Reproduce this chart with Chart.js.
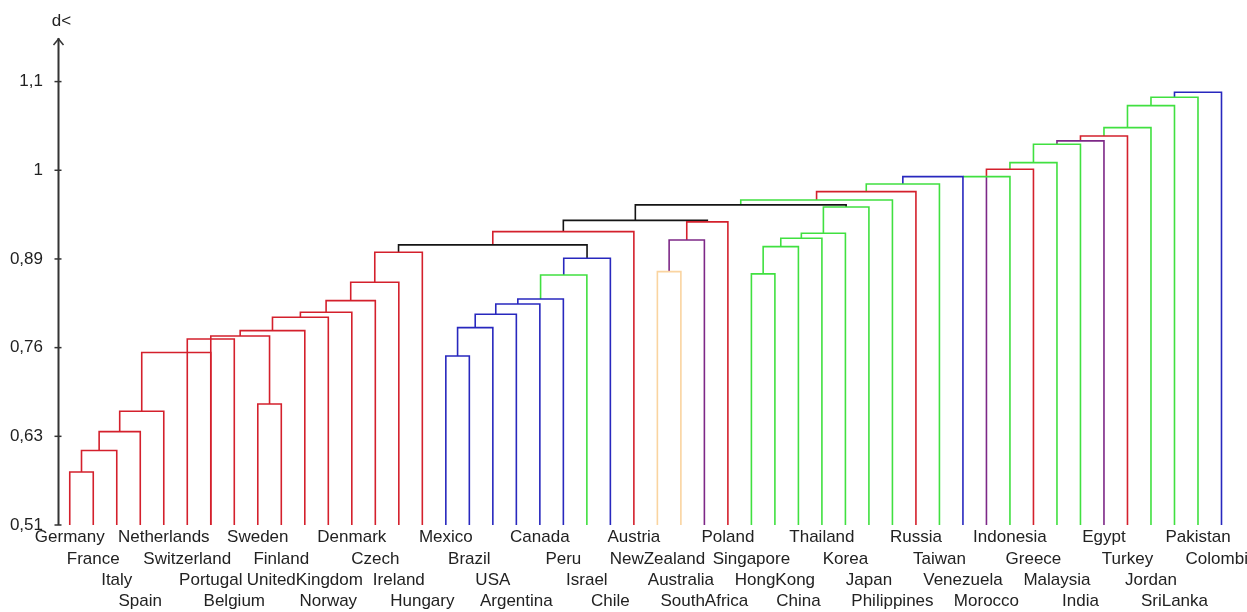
<!DOCTYPE html>
<html>
<head>
<meta charset="utf-8">
<script src="https://cdn.jsdelivr.net/npm/chart.js@4/dist/chart.umd.min.js"></script>
<style>
  body { margin: 0; background: #fff; }
  #wrap { width: 1247px; height: 612px; position: relative; }
</style>
</head>
<body>
<div id="wrap"><canvas id="dendro"></canvas></div>
<script>
// leaves, left to right
const leafNames = ['Germany', 'France', 'Italy', 'Spain', 'Netherlands', 'Switzerland', 'Portugal', 'Belgium',
  'Sweden', 'Finland', 'UnitedKingdom', 'Norway', 'Denmark', 'Czech', 'Ireland', 'Hungary',
  'Mexico', 'Brazil', 'USA', 'Argentina', 'Canada', 'Peru', 'Israel', 'Chile',
  'Austria', 'NewZealand', 'Australia', 'SouthAfrica', 'Poland', 'Singapore', 'HongKong', 'China',
  'Thailand', 'Korea', 'Japan', 'Philippines', 'Russia', 'Taiwan', 'Venezuela', 'Morocco',
  'Indonesia', 'Greece', 'Malaysia', 'India', 'Egypt', 'Turkey', 'Jordan', 'SriLanka', 'Pakistan', 'Colombia'];

// y axis ticks (distance d<)
const yTickValues = [0.51, 0.628, 0.746, 0.864, 0.982, 1.1];
const yTickLabels = ['0,51', '0,63', '0,76', '0,89', '1', '1,1'];

// each link of the dendrogram: left / right position (leaf index units), join height, base height of each leg, group
const linkLeft = [0, 0.5, 1.25, 2.125, 3.0625, 5, 8, 6, 7.25, 8.625, 9.8125, 10.906, 11.953, 12.977,
  16, 16.5, 17.25, 18.125, 19.063, 20.031, 21.016, 13.988, 17.998,
  25, 25.5, 26.25, 20.999,
  29, 29.5, 30.25, 31.125, 32.063, 24.062, 28.547, 31.773, 33.887, 35.443,
  38, 39, 39, 40, 41, 42, 43, 44, 45, 46, 47];
const linkRight = [1, 2, 3, 4, 6, 7, 9, 8.5, 10, 11, 12, 13, 14, 15,
  17, 18, 19, 20, 21, 22, 23, 22.008, 24,
  26, 27, 28, 27.125,
  30, 31, 32, 33, 34, 33.031, 35, 36, 37, 38,
  40, 39, 41, 42, 43, 44, 45, 46, 47, 48, 49];
const linkHeight = [0.5805, 0.6092, 0.6342, 0.6613, 0.7396, 0.7575, 0.6710, 0.7615, 0.7686, 0.7864, 0.7931, 0.8085, 0.8330, 0.8729,
  0.7349, 0.7726, 0.7904, 0.8041, 0.8108, 0.8427, 0.8649, 0.8827, 0.9004,
  0.8471, 0.8893, 0.9133, 0.9153,
  0.8441, 0.8804, 0.8916, 0.8982, 0.9332, 0.9359, 0.9425, 0.9536, 0.9638, 0.9736,
  0.9736, 0.9736, 0.9834, 0.9922, 1.0167, 1.0211, 1.0277, 1.0388, 1.0680, 1.0792, 1.0859];
const linkLeftBase = [0.51, 0.5805, 0.6092, 0.6342, 0.6613, 0.51, 0.51, 0.51, 0.7615, 0.7686, 0.7864, 0.7931, 0.8085, 0.8330,
  0.51, 0.7349, 0.7726, 0.7904, 0.8041, 0.8108, 0.8427, 0.8729, 0.8827,
  0.51, 0.8471, 0.8893, 0.9004,
  0.51, 0.8441, 0.8804, 0.8916, 0.8982, 0.9153, 0.9359, 0.9425, 0.9536, 0.9638,
  0.9736, 0.51, 0.9736, 0.9834, 0.9922, 1.0167, 1.0211, 1.0277, 1.0388, 1.0680, 1.0792];
const linkRightBase = [0.51, 0.51, 0.51, 0.51, 0.51, 0.51, 0.51, 0.6710, 0.51, 0.51, 0.51, 0.51, 0.51, 0.51,
  0.51, 0.51, 0.51, 0.51, 0.51, 0.51, 0.51, 0.8649, 0.51,
  0.51, 0.51, 0.51, 0.9133,
  0.51, 0.51, 0.51, 0.51, 0.51, 0.9332, 0.51, 0.51, 0.51, 0.51,
  0.51, 0.51, 0.51, 0.51, 0.51, 0.51, 0.51, 0.51, 0.51, 0.51, 0.51];
const linkGroup = ['red', 'red', 'red', 'red', 'red', 'red', 'red', 'red', 'red', 'red', 'red', 'red', 'red', 'red',
  'blue', 'blue', 'blue', 'blue', 'blue', 'green', 'blue', 'black', 'red',
  'peach', 'purple', 'red', 'black',
  'green', 'green', 'green', 'green', 'green', 'black', 'green', 'red', 'green', 'blue',
  'green', 'purple', 'red', 'green', 'green', 'purple', 'red', 'green', 'green', 'green', 'blue'];

const groupColors = {
  red: 'rgb(212, 32, 44)',
  blue: 'rgb(40, 40, 190)',
  green: 'rgb(64, 224, 64)',
  black: 'rgb(20, 20, 20)',
  peach: 'rgb(250, 212, 160)',
  purple: 'rgb(125, 40, 135)'
};

const labelFont = { family: '"Liberation Sans", Arial, sans-serif', size: 17, lineHeight: 1.25 };

const datasets = linkLeft.map((l, i) => ({
  data: [
    { x: l, y: linkLeftBase[i] },
    { x: l, y: linkHeight[i] },
    { x: linkRight[i], y: linkHeight[i] },
    { x: linkRight[i], y: linkRightBase[i] }
  ],
  showLine: true,
  borderColor: groupColors[linkGroup[i]],
  borderWidth: 1.6,
  pointRadius: 0,
  tension: 0,
  fill: false
}));

// axis line with arrow, crossing tick marks and the "d<" caption
const axisArrow = {
  id: 'axisArrow',
  afterDraw(chart) {
    const { ctx, chartArea: a, scales } = chart;
    const x0 = a.left + 0.5;
    ctx.save();
    ctx.strokeStyle = '#333';
    ctx.lineWidth = 2;
    ctx.beginPath();
    ctx.moveTo(x0, a.bottom);
    ctx.lineTo(x0, a.top);
    ctx.stroke();
    ctx.lineWidth = 1.5;
    ctx.beginPath();
    ctx.moveTo(x0 - 5, a.top + 7);
    ctx.lineTo(x0, a.top + 1);
    ctx.lineTo(x0 + 5, a.top + 7);
    ctx.stroke();
    yTickValues.forEach(v => {
      const py = scales.y.getPixelForValue(v);
      ctx.beginPath();
      ctx.moveTo(x0 - 4, py);
      ctx.lineTo(x0 + 3, py);
      ctx.stroke();
    });
    ctx.fillStyle = '#222';
    ctx.font = '17px "Liberation Sans", Arial, sans-serif';
    ctx.textAlign = 'center';
    ctx.textBaseline = 'middle';
    ctx.fillText('d<', x0 + 3, a.top - 17);
    ctx.restore();
  }
};

new Chart(document.getElementById('dendro'), {
  type: 'scatter',
  data: { datasets: datasets },
  options: {
    responsive: true,
    maintainAspectRatio: false,
    animation: false,
    events: [],
    layout: { padding: { top: 38, right: 2, left: 0, bottom: 0 } },
    plugins: {
      legend: { display: false },
      tooltip: { enabled: false }
    },
    scales: {
      x: {
        type: 'linear',
        min: -0.5,
        max: 50,
        grid: { display: false, drawTicks: false },
        border: { display: false },
        afterBuildTicks: scale => {
          scale.ticks = leafNames.map((n, i) => ({ value: i }));
        },
        afterFit: scale => {
          scale.height = 87;
          scale.paddingLeft = 0;
          scale.paddingRight = 0;
        },
        ticks: {
          autoSkip: false,
          maxRotation: 0,
          minRotation: 0,
          padding: 2,
          color: '#222',
          font: labelFont,
          callback: (v, i) => {
            const rows = [];
            for (let k = 0; k < i % 4; k++) rows.push('');
            rows.push(leafNames[i]);
            return rows;
          }
        }
      },
      y: {
        type: 'linear',
        min: 0.51,
        max: 1.158,
        grid: { display: false, drawTicks: false },
        border: { display: false },
        afterBuildTicks: scale => {
          scale.ticks = yTickValues.map(v => ({ value: v }));
        },
        afterFit: scale => {
          scale.width = 58;
        },
        ticks: {
          padding: 15,
          color: '#222',
          font: labelFont,
          callback: (v, i) => yTickLabels[i]
        }
      }
    }
  },
  plugins: [axisArrow]
});
</script>
</body>
</html>
